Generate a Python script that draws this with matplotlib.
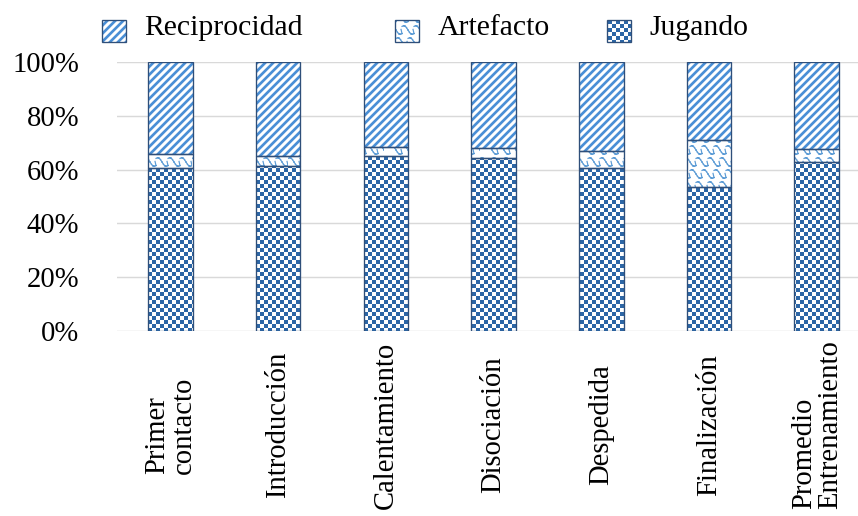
import warnings
warnings.filterwarnings("ignore")
import numpy as np
import matplotlib
matplotlib.use("Agg")
import matplotlib.pyplot as plt
import matplotlib.hatch as mhatch
from matplotlib.path import Path
from matplotlib.patches import Patch, Rectangle
from matplotlib.legend_handler import HandlerPatch

# ---------------- data ----------------
categories = ["Primer\ncontacto", "Introducción", "Calentamiento", "Disociación",
              "Despedida", "Finalización", "Promedio\nEntrenamiento"]
jugando = [60.5, 61.4, 65.1, 64.2, 60.7, 53.5, 62.9]
artefacto = [5.4, 3.6, 3.5, 3.7, 6.1, 17.5, 4.9]
reciprocidad = [34.1, 35.0, 31.4, 32.1, 33.2, 29.0, 32.2]
yticks = [0, 20, 40, 60, 80, 100]
ytick_labels = ["0%", "20%", "40%", "60%", "80%", "100%"]


# ---------------- custom hatches ----------------
class CheckerHatch(mhatch.HatchPatternBase):
    def __init__(self, hatch, density):
        self.n = 24 if 'c' in hatch else 0
        self.num_vertices = (self.n * self.n // 2) * 5

    def set_vertices_and_codes(self, vertices, codes):
        n = self.n
        s = 1.0 / n
        vs, cs = [], []
        for i in range(n):
            for j in range(n):
                if (i + j) % 2 == 0:
                    x0, y0 = j * s, i * s
                    vs += [(x0, y0), (x0 + s, y0), (x0 + s, y0 + s), (x0, y0 + s), (x0, y0)]
                    cs += [Path.MOVETO, Path.LINETO, Path.LINETO, Path.LINETO, Path.CLOSEPOLY]
        vertices[:] = np.array(vs)
        codes[:] = np.array(cs, dtype=Path.code_type)


class ShingleHatch(mhatch.HatchPatternBase):
    SEG = 8

    def __init__(self, hatch, density):
        self.k = 8 if 'w' in hatch else 0
        self.num_vertices = self.k * self.k * (self.SEG * 2 + 2)

    def set_vertices_and_codes(self, vertices, codes):
        k = self.k
        s = 1.0 / k
        t = np.linspace(0, 1, self.SEG + 1)
        cx = t
        cy = 0.8 - 0.6 * t + 0.18 * np.sin(2 * np.pi * t)
        vs, cs = [], []
        for i in range(k):
            for j in range(k):
                ox = j * s + (0.5 * s if i % 2 else 0.0)
                oy = i * s
                px = ox + cx * s
                py = oy + cy * s
                for m in range(self.SEG):
                    vs += [(px[m], py[m]), (px[m + 1], py[m + 1])]
                    cs += [Path.MOVETO, Path.LINETO]
                vs += [(px[-1], py[-1]), (px[-1] - 0.08 * s, oy + 0.55 * s)]
                cs += [Path.MOVETO, Path.LINETO]
        vertices[:] = np.array(vs)
        codes[:] = np.array(cs, dtype=Path.code_type)


mhatch._hatch_types.append(CheckerHatch)
mhatch._hatch_types.append(ShingleHatch)

HATCH_LW = {'c': 0.0, 'w': 0.9, '////': 2.0}


def with_hatch_lw(artist, lw):
    orig = artist.draw

    def draw(renderer, *a, **k):
        with plt.rc_context({'hatch.linewidth': lw}):
            if hasattr(artist, 'set_hatch_linewidth'):
                artist.set_hatch_linewidth(lw)
            return orig(renderer, *a, **k)
    artist.draw = draw


def shifted_box(legend, orig_handle, xdescent, ydescent, width, height, fontsize):
    return Rectangle((-xdescent, -ydescent - 4.5), width, height)


# ---------------- style ----------------
plt.rcParams['font.family'] = ['Liberation Serif', 'DejaVu Serif']
DPI = 96
fig = plt.figure(figsize=(858 / DPI, 516 / DPI), dpi=DPI)
ax = fig.add_axes([116.6 / 858, (516 - 330.7) / 516, 754 / 858, 268.4 / 516])

outline = '#2F4F7A'
series = [
    ("Jugando", jugando, 'c', '#2C66A6'),
    ("Artefacto", artefacto, 'w', '#5B9BD5'),
    ("Reciprocidad", reciprocidad, '////', '#4A8FD6'),
]

x = np.arange(len(categories))
width = 0.413
bottom = np.zeros(len(categories))
handles = {}
for name, vals, hatch, hcol in series:
    bars = ax.bar(x, vals, width=width, bottom=bottom, facecolor='white',
                  edgecolor=hcol, linewidth=0, hatch=hatch, zorder=2)
    for b in bars:
        with_hatch_lw(b, HATCH_LW[hatch])
    ax.bar(x, vals, width=width, bottom=bottom, fill=False,
           edgecolor=outline, linewidth=1.0, zorder=3)
    hp = Patch(facecolor='white', edgecolor=hcol, linewidth=0, hatch=hatch)
    op = Patch(fill=False, edgecolor=outline, linewidth=1.0)
    handles[name] = (hp, op)
    bottom = bottom + np.array(vals)

ax.set_xlim(-0.5, len(categories) - 0.5)
ax.set_ylim(0, 100)
ax.set_yticks(yticks)
ax.set_yticklabels(ytick_labels, fontsize=21.5)
ax.yaxis.grid(True, color='#d9d9d9', linewidth=1.1)
ax.set_axisbelow(True)
for sp in ax.spines.values():
    sp.set_visible(False)
ax.tick_params(axis='y', length=0, pad=28.2)
ax.set_xticks(x)
ax.set_xticklabels(categories, rotation=90, va='center', ha='center',
                   multialignment='left', linespacing=1.0, fontsize=21.5)
ax.tick_params(axis='x', length=0, pad=70.7)

# legend: three entries placed like the reference
legend_pos = [("Reciprocidad", 101.7), ("Artefacto", 395.0), ("Jugando", 607.0)]
for name, px in legend_pos:
    leg = fig.legend([handles[name]], [name], loc='center left',
                     bbox_to_anchor=(px / 858, 1 - 27.5 / 516),
                     frameon=False, borderpad=0, borderaxespad=0,
                     handlelength=0.82, handleheight=0.76, handletextpad=0.6,
                     fontsize=22.3,
                     handler_map={Patch: HandlerPatch(patch_func=shifted_box)})
    for r in leg.findobj(Rectangle):
        h = r.get_hatch()
        if h:
            with_hatch_lw(r, HATCH_LW.get(h, 1.0))

fig.savefig("out.png", dpi=DPI)
